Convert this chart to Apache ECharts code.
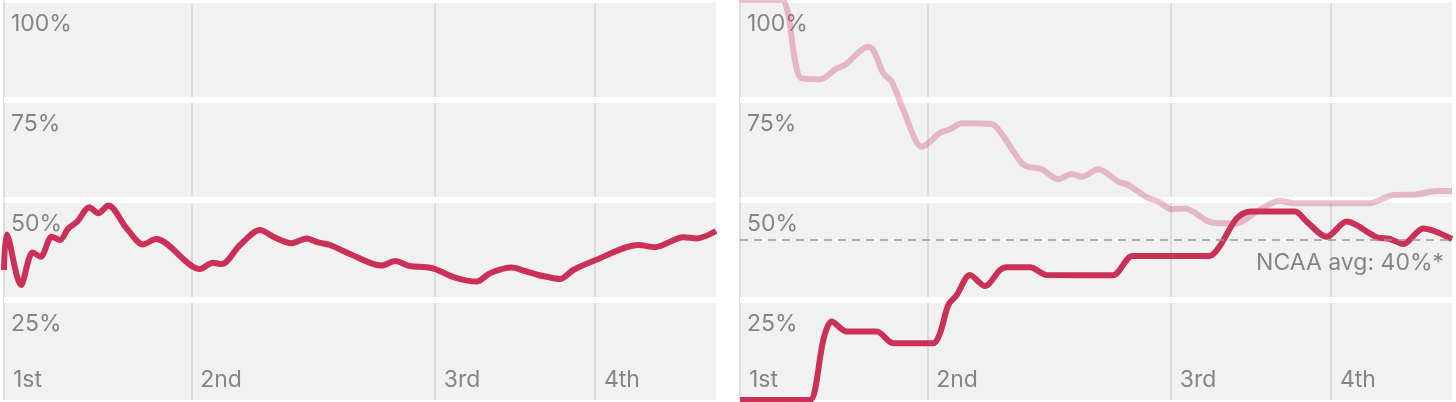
<!DOCTYPE html>
<html><head><meta charset="utf-8">
<script src="https://cdn.jsdelivr.net/npm/echarts@6/dist/echarts.min.js"></script>
<style>html,body{margin:0;padding:0;background:#fff}#c{width:1456px;height:402px}</style>
</head><body><div id="c"></div>
<script>
// ---- data ----
const quarterStarts = [0, 26.3, 60.5, 83.0];
const quarterLabels = ['1st', '2nd', '3rd', '4th'];
const yTicks = [0, 25, 50, 75, 100];
const yTickLabels = ['', '25%', '50%', '75%', '100%'];
const ncaaAvg = 40;
const ncaaLabel = 'NCAA avg: 40%*';

// left panel: [game progress %, FG%]
const leftLine = [
  [0,32.5],[0.38,41.4],[2.39,28.75],[4.03,36.9],[5.15,35.8],[6.7,40.8],[7.87,40.0],
  [9.03,42.9],[10.29,44.6],[11.98,48.2],[13.24,46.7],[14.65,48.6],[17.23,42.9],
  [19.56,38.9],[21.35,40.25],[27.53,32.75],[29.31,34.3],[30.58,34.0],[33.15,38.75],
  [35.96,42.5],[38.06,40.6],[40.41,39.2],[42.51,40.4],[44.14,39.4],[45.79,38.75],
  [48.36,36.7],[53.05,33.6],[54.92,34.75],[57.02,33.5],[59.37,33.2],[60.53,32.75],
  [63.34,30.6],[66.39,29.6],[68.26,31.7],[71.31,33.1],[73.17,32.25],[75.04,31.25],
  [76.22,30.8],[78.09,30.25],[79.96,32.5],[82.87,34.8],[89.09,38.75],[91.43,38.2],
  [95.41,40.7],[97.29,40.4],[100,42.25]
];

// right panel, faded line
const rightFaded = [
  [0,100],[5.86,100],[6.74,96.75],[7.72,85],[8.67,80.4],[11.24,80.2],[13.58,82.9],
  [14.75,83.75],[18.02,88.3],[18.72,87.5],[20.13,81.7],[21.31,79.6],[22.94,72.5],
  [25.52,63.3],[26.45,64.2],[28.09,66.8],[29.49,67.7],[31.14,69.2],[35.35,69.0],
  [36.52,67.1],[39.56,59.2],[40.49,58.3],[42.37,57.7],[44.7,55.2],[46.59,56.5],
  [47.99,55.8],[50.32,57.7],[53.13,54.6],[54.54,53.75],[57.12,50.7],[58.75,49.6],
  [60.63,47.7],[62.5,47.9],[65.77,44.6],[67.42,44.2],[69.76,44.2],[72.57,47.1],
  [75.84,49.8],[77.71,49.2],[88.48,49.2],[89.89,50],[91.76,51.25],[95.04,51.4],
  [97.85,52.25],[100,52.25]
];

// right panel, main line
const rightLine = [
  [0,0],[9.83,0],[10.53,2.5],[11.7,15],[12.88,19.6],[14.99,17.1],[19.2,17.1],
  [21.53,14.2],[27.15,14.2],[28.09,16.7],[29.26,23.75],[30.44,26.25],[32.3,31.25],
  [34.41,28.5],[36.52,32.5],[37.46,33.2],[40.73,33.2],[43.08,31.25],[52.35,31.2],
  [55.15,36],[65.91,36],[67.32,38.3],[69.76,45.4],[71.63,47.1],[77.95,47.1],
  [79.59,44.6],[82.4,40.8],[85.21,44.6],[89.42,40.7],[91.29,40.25],[93.16,39],
  [95.97,42.9],[100,40.25]
];

// ---- chart ----
const FONT = 'Inter, "Noto Sans", sans-serif';
const GRAY = '#858585';
const RED = '#cb3157';
const FS = 23;
const LW = 6;

function qLabel(v) {
  for (let i = 0; i < quarterStarts.length; i++) {
    if (Math.abs(quarterStarts[i] - v) < 0.01) return quarterLabels[i];
  }
  return '';
}
function yLabel(v) {
  const i = yTicks.indexOf(v);
  return i >= 0 ? yTickLabels[i] : '';
}

const grids = [0, 1].map(i => ({
  left: i === 0 ? 4 : 740, top: 0, width: 712, height: 400,
  show: true, backgroundColor: '#f1f1f1', borderWidth: 0, z: 0,
  containLabel: false, outerBoundsMode: 'none'
}));

const xAxes = [0, 1].map(i => ({
  type: 'value', gridIndex: i, min: 0, max: 100, z: 1,
  axisLine: { show: false },
  axisTick: { show: false, customValues: quarterStarts },
  axisLabel: {
    show: true, inside: true, customValues: quarterStarts,
    formatter: qLabel, align: 'left', padding: [0, 0, 0, 9], margin: 8,
    color: GRAY, fontSize: FS, fontFamily: FONT
  },
  splitLine: { show: true, lineStyle: { color: '#d3d3d3', width: 1.5 } }
}));

const yAxes = [0, 1].map(i => ({
  type: 'value', gridIndex: i, min: 0, max: 100, interval: 25, z: 2,
  axisLine: { show: false }, axisTick: { show: false },
  axisLabel: {
    show: true, inside: true, formatter: yLabel, verticalAlign: 'top',
    padding: [13, 0, 0, 0], margin: 7, color: GRAY, fontSize: FS, fontFamily: FONT
  },
  splitLine: { show: true, showMinLine: false, lineStyle: { color: '#ffffff', width: 6 } }
}));

const option = {
  animation: false,
  backgroundColor: '#ffffff',
  grid: grids,
  xAxis: xAxes,
  yAxis: yAxes,
  series: [
    {
      type: 'line', xAxisIndex: 0, yAxisIndex: 0, data: leftLine, z: 3,
      smooth: 0.3, symbol: 'none', lineStyle: { color: RED, width: LW }
    },
    {
      type: 'line', xAxisIndex: 1, yAxisIndex: 1, data: rightFaded, z: 3,
      smooth: 0.3, symbol: 'none', lineStyle: { color: RED, width: LW, opacity: 0.3 }
    },
    {
      type: 'line', xAxisIndex: 1, yAxisIndex: 1, data: rightLine, z: 4,
      smooth: 0.3, symbol: 'none', lineStyle: { color: RED, width: LW },
      markLine: {
        silent: true, symbol: ['none', 'none'],
        lineStyle: { type: [8, 6], color: '#999999', width: 1.5 },
        label: {
          show: true, position: 'insideEndBottom', formatter: ncaaLabel,
          color: GRAY, fontSize: FS, fontFamily: FONT, distance: [8, 12]
        },
        data: [{ yAxis: ncaaAvg }]
      }
    }
  ]
};

const chart = echarts.init(document.getElementById('c'), null, { renderer: 'canvas' });
chart.setOption(option);
</script>
</body></html>
